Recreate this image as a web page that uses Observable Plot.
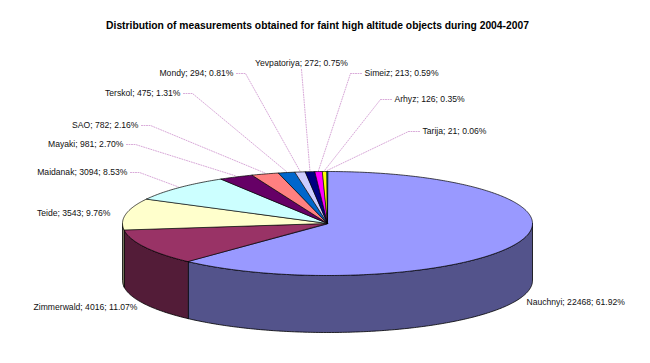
<!DOCTYPE html>
<html>
<head>
<meta charset="utf-8">
<script src="https://cdn.jsdelivr.net/npm/d3@7"></script>
<script src="https://cdn.jsdelivr.net/npm/@observablehq/plot@0.6"></script>
<style>
  html, body { margin: 0; padding: 0; background: #fff; }
  #chart svg { display: block; }
</style>
</head>
<body>
<div id="chart"></div>
<script>
// ---- data ----
const titleText = "Distribution of measurements obtained for faint high altitude objects during 2004-2007";
const names = ["Nauchnyi","Zimmerwald","Teide","Maidanak","Mayaki","SAO","Terskol","Mondy","Yevpatoriya","Simeiz","Arhyz","Tarija"];
const counts = [22468, 4016, 3543, 3094, 981, 782, 475, 294, 272, 213, 126, 21];
const percents = ["61.92%","11.07%","9.76%","8.53%","2.70%","2.16%","1.31%","0.81%","0.75%","0.59%","0.35%","0.06%"];
const topColors = ["#9999FF","#993366","#FFFFCC","#CCFFFF","#660066","#FF8080","#0066CC","#CCCCFF","#000080","#FF00FF","#FFFF00","#00FFFF"];

// ---- layout (pie geometry & label placement, in pie-radius units) ----
const W = 650, H = 363;
const CX = 327, CY = 223, RX = 205;          // pixel frame of the pie
const RY = 52 / RX, DEPTH = 57 / RX;          // tilt and thickness
const px = v => v / RX;
// label anchor points (pixel offsets from pie centre), text anchor, leader?
const labelLayout = [
  {dx: 199, dy: 79,  anchor: "start",  leader: false},
  {dx: -190, dy: 84, anchor: "end",    leader: false},
  {dx: -217, dy: -10, anchor: "end",   leader: false},
  {dx: -200, dy: -51, anchor: "end",   leader: true},
  {dx: -204, dy: -79, anchor: "end",   leader: true},
  {dx: -189, dy: -98, anchor: "end",   leader: true},
  {dx: -147, dy: -130, anchor: "end",  leader: true},
  {dx: -94, dy: -150, anchor: "end",   leader: true},
  {dx: -26, dy: -160, anchor: "middle", leader: true},
  {dx: 37, dy: -150, anchor: "start",  leader: true},
  {dx: 67, dy: -124, anchor: "start",  leader: true},
  {dx: 95, dy: -92, anchor: "start",   leader: true}
];

// ---- geometry ----
const total = d3.sum(counts);
let acc = 0;
const slices = names.map((name, i) => {
  const a0 = acc / total * 2 * Math.PI;
  acc += counts[i];
  const a1 = acc / total * 2 * Math.PI;
  return {name, i, a0, a1, mid: (a0 + a1) / 2};
});
const pt = (a, h = 0) => ({x: Math.sin(a), y: Math.cos(a) * RY - h * DEPTH});
function arc(a0, a1, h) {
  const n = Math.max(2, Math.ceil(Math.abs(a1 - a0) / (Math.PI / 240)));
  return d3.range(n + 1).map(k => pt(a0 + (a1 - a0) * k / n, h));
}

const sideColors = topColors.map(c => d3.rgb(c).darker(1.7).formatHex());
const sideKeys = names.map(n => n + " (side)");

const sidePts = [];
slices.forEach(s => {
  const lo = Math.max(s.a0, Math.PI / 2), hi = Math.min(s.a1, 3 * Math.PI / 2);
  if (lo < hi) {
    const key = sideKeys[s.i];
    arc(lo, hi, 0).forEach(p => sidePts.push({...p, key}));
    arc(hi, lo, 1).forEach(p => sidePts.push({...p, key}));
  }
});

const topPts = [];
slices.forEach(s => {
  topPts.push({x: 0, y: 0, key: s.name});
  arc(s.a0, s.a1, 0).forEach(p => topPts.push({...p, key: s.name}));
});

const labels = slices.map(s => {
  const L = labelLayout[s.i];
  return {
    x: px(L.dx), y: -px(L.dy), anchor: L.anchor, leader: L.leader,
    text: `${s.name}; ${counts[s.i]}; ${percents[s.i]}`, s
  };
});

const leaderPts = [];
labels.forEach(l => {
  if (!l.leader) return;
  const end = pt(l.s.mid, 0);
  const key = l.s.name;
  if (l.anchor === "end") {
    leaderPts.push({x: l.x + px(3), y: l.y, key});
    leaderPts.push({x: l.x + px(12), y: l.y, key});
  } else if (l.anchor === "start") {
    leaderPts.push({x: l.x - px(3), y: l.y, key});
    leaderPts.push({x: l.x - px(14), y: l.y, key});
  } else {
    leaderPts.push({x: l.x, y: l.y - px(6), key});
  }
  leaderPts.push({x: end.x, y: end.y + px(1), key});
});

const font = "Arial, 'Liberation Sans', Helvetica, sans-serif";
const textOpts = {x: "x", y: "y", text: "text", fontSize: 8.6, fontFamily: font, fill: "#111"};

const chart = Plot.plot({
  width: W, height: H,
  margin: 0,
  style: {background: "#fff", fontFamily: font},
  x: {domain: [-1, 1], range: [CX - RX, CX + RX], axis: null},
  y: {domain: [-1, 1], range: [CY + RX, CY - RX], axis: null},
  color: {type: "ordinal", domain: [...names, ...sideKeys], range: [...topColors, ...sideColors]},
  marks: [
    Plot.line(leaderPts, {x: "x", y: "y", z: "key", stroke: "#d8a8d8", strokeWidth: 1, strokeDasharray: "1,1.5"}),
    Plot.line(sidePts, {x: "x", y: "y", z: "key", fill: "key", stroke: "#000", strokeWidth: 0.8, curve: "linear-closed"}),
    Plot.line(topPts, {x: "x", y: "y", z: "key", fill: "key", stroke: "#000", strokeWidth: 0.7, curve: "linear-closed"}),
    Plot.text(labels.filter(d => d.anchor === "start"), {...textOpts, textAnchor: "start"}),
    Plot.text(labels.filter(d => d.anchor === "end"), {...textOpts, textAnchor: "end"}),
    Plot.text(labels.filter(d => d.anchor === "middle"), {...textOpts, textAnchor: "middle"}),
    Plot.text([titleText], {frameAnchor: "top", dy: 25, dx: -8, lineAnchor: "middle", fontWeight: "bold", fontSize: 10.3, fontFamily: font, fill: "#000"})
  ]
});
document.getElementById("chart").appendChild(chart);
</script>
</body>
</html>
